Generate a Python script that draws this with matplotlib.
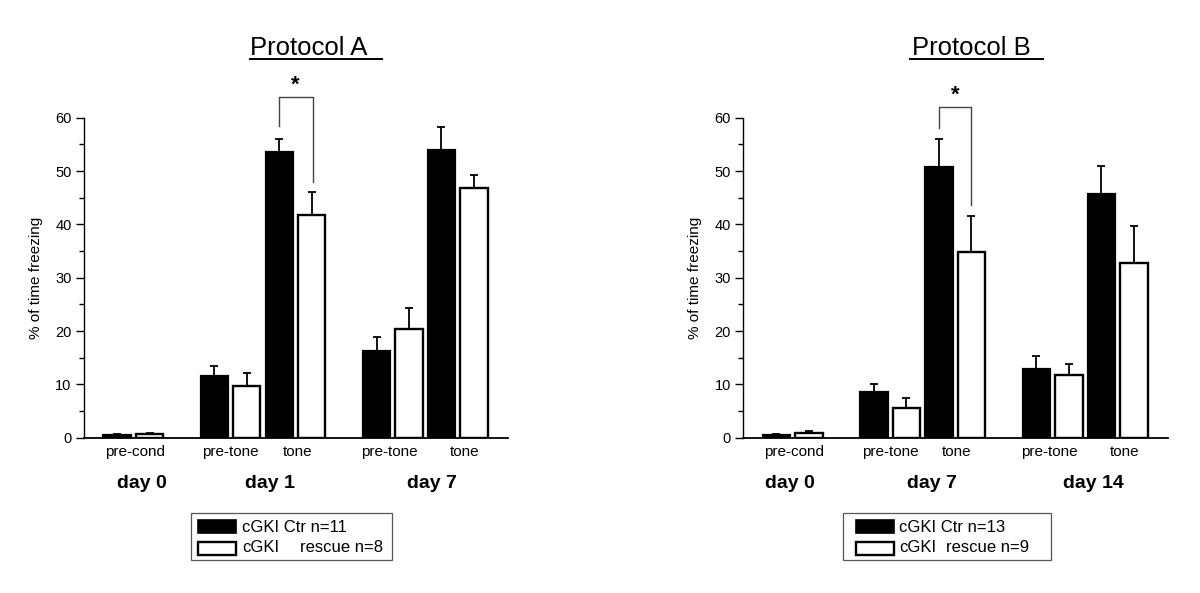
import matplotlib
matplotlib.use("Agg")
import matplotlib.pyplot as plt
from matplotlib.lines import Line2D
from matplotlib.patches import Rectangle
from matplotlib.ticker import MultipleLocator
import numpy as np

plt.rcParams['font.family'] = ['Liberation Sans', 'DejaVu Sans']

# ---- data ----
phases = ['pre-cond', 'pre-tone', 'tone', 'pre-tone', 'tone']

# Protocol A: day 0, day 1, day 7
days_a = ['day 0', 'day 1', 'day 7']
ctr_a = [0.6, 11.6, 53.5, 16.2, 53.9]
ctr_a_err = [0.1, 1.9, 2.6, 2.7, 4.4]
res_a = [0.7, 9.7, 41.8, 20.4, 46.8]
res_a_err = [0.1, 2.4, 4.3, 4.0, 2.5]
legend_a = ['cGKI Ctr n=11', 'cGKI     rescue n=8']

# Protocol B: day 0, day 7, day 14
days_b = ['day 0', 'day 7', 'day 14']
ctr_b = [0.6, 8.5, 50.8, 12.9, 45.7]
ctr_b_err = [0.1, 1.6, 5.3, 2.4, 5.3]
res_b = [0.9, 5.6, 34.9, 11.8, 32.8]
res_b_err = [0.3, 1.9, 6.6, 2.1, 6.9]
legend_b = ['cGKI Ctr n=13', 'cGKI   rescue n=9']

W, H = 1200, 593


def fx(px):
    return px / W


def fy(py):
    return 1 - py / H


def panel(fig, left_px, right_px, ctr, ctr_err, res, res_err, days, day_x,
          bracket, star_xy, title, title_px, legend, legend_px):
    ax = fig.add_axes([fx(left_px), fy(437.7), fx(right_px - left_px), (437.7 - 117.7) / H])
    # group positions: pre-cond alone, then pre-tone/tone pairs for two days
    starts = np.array([0, 3, 5, 8, 10])
    bw = 0.84
    ax.bar(starts, ctr, width=bw, color='black', edgecolor='black', linewidth=1.6, zorder=2)
    ax.bar(starts + 1, res, width=bw, color='white', edgecolor='black', linewidth=1.7, zorder=2)
    ax.errorbar(starts, ctr, yerr=[np.zeros(5), ctr_err], fmt='none', ecolor='black',
                elinewidth=1.3, capsize=2.8, capthick=1.3, zorder=3)
    ax.errorbar(starts + 1, res, yerr=[np.zeros(5), res_err], fmt='none', ecolor='black',
                elinewidth=1.3, capsize=2.8, capthick=1.3, zorder=3)

    ax.set_xlim(-1.02, 12.05)
    ax.set_ylim(0, 60)
    ax.spines['top'].set_visible(False)
    ax.spines['right'].set_visible(False)
    ax.spines['left'].set_bounds(0, 60)
    ax.spines['left'].set_linewidth(1.0)
    ax.spines['bottom'].set_linewidth(1.3)
    ax.yaxis.set_major_locator(MultipleLocator(10))
    ax.yaxis.set_minor_locator(MultipleLocator(5))
    ax.tick_params(axis='y', which='major', length=6, width=1.0, labelsize=10.5, pad=3)
    ax.tick_params(axis='y', which='minor', length=3.5, width=1.0)
    ax.set_xticks([])
    ax.set_ylabel('% of time freezing', fontsize=11, labelpad=9)
    ax.patch.set_visible(False)

    # phase labels under the bars
    label_x = [0.55, 3.5, 5.55, 8.4, 10.7]
    for x, name in zip(label_x, phases):
        ax.text(x, -2.7, name, ha='center', va='center', fontsize=11, clip_on=False)
    for x, name in zip(day_x, days):
        ax.text(x, -8.5, name, ha='center', va='center', fontsize=14,
                fontweight='bold', clip_on=False)

    # significance bracket
    xl, xr, yl, ytop, yr = bracket
    ax.plot([xl, xl, xr, xr], [yl, ytop, ytop, yr], color='#444444', lw=1.0,
            clip_on=False, zorder=4)
    ax.text(star_xy[0], star_xy[1], '*', ha='center', va='center', fontsize=16,
            fontweight='bold', clip_on=False)

    # underlined title
    tx, tu0, tu1 = title_px
    fig.text(fx(tx), fy(55), title, ha='left', va='baseline', fontsize=18.5)
    fig.add_artist(Line2D([fx(tu0), fx(tu1)], [fy(58.5), fy(58.5)], color='black', lw=1.4))

    # legend box drawn in figure pixels
    bx0, bx1, patch_x0, text_x, rescue_x = legend_px
    fig.add_artist(Rectangle((fx(bx0), fy(560)), fx(bx1 - bx0), (560 - 513) / H,
                             transform=fig.transFigure, facecolor='white',
                             edgecolor='#555555', lw=0.9))
    fig.add_artist(Rectangle((fx(patch_x0), fy(533)), fx(38), 13 / H,
                             transform=fig.transFigure, facecolor='black',
                             edgecolor='black', lw=1.2))
    fig.add_artist(Rectangle((fx(patch_x0), fy(555)), fx(38), 13 / H,
                             transform=fig.transFigure, facecolor='white',
                             edgecolor='black', lw=1.7))
    fig.text(fx(text_x), fy(527), legend[0], ha='left', va='center', fontsize=12)
    fig.text(fx(text_x), fy(548), legend[1].split()[0], ha='left', va='center', fontsize=12)
    fig.text(fx(rescue_x), fy(548), ' '.join(legend[1].split()[1:]), ha='left',
             va='center', fontsize=12)
    return ax


fig = plt.figure(figsize=(12, 5.93), dpi=100)

panel(fig, 84, 508, ctr_a, ctr_a_err, res_a, res_a_err, days_a,
      day_x=[0.75, 4.7, 9.7],
      bracket=(4.98, 6.03, 58.4, 63.8, 48.0), star_xy=(5.5, 66.1),
      title='Protocol A', title_px=(250, 250, 382),
      legend=legend_a, legend_px=(191, 392, 198, 242, 300))

panel(fig, 743.3, 1168, ctr_b, ctr_b_err, res_b, res_b_err, days_b,
      day_x=[0.4, 4.77, 9.75],
      bracket=(5.0, 6.0, 58.1, 62.0, 43.6), star_xy=(5.5, 64.3),
      title='Protocol B', title_px=(912, 910, 1043),
      legend=legend_b, legend_px=(843, 1051, 856, 899, 946))

fig.savefig('out.png', dpi=100)
